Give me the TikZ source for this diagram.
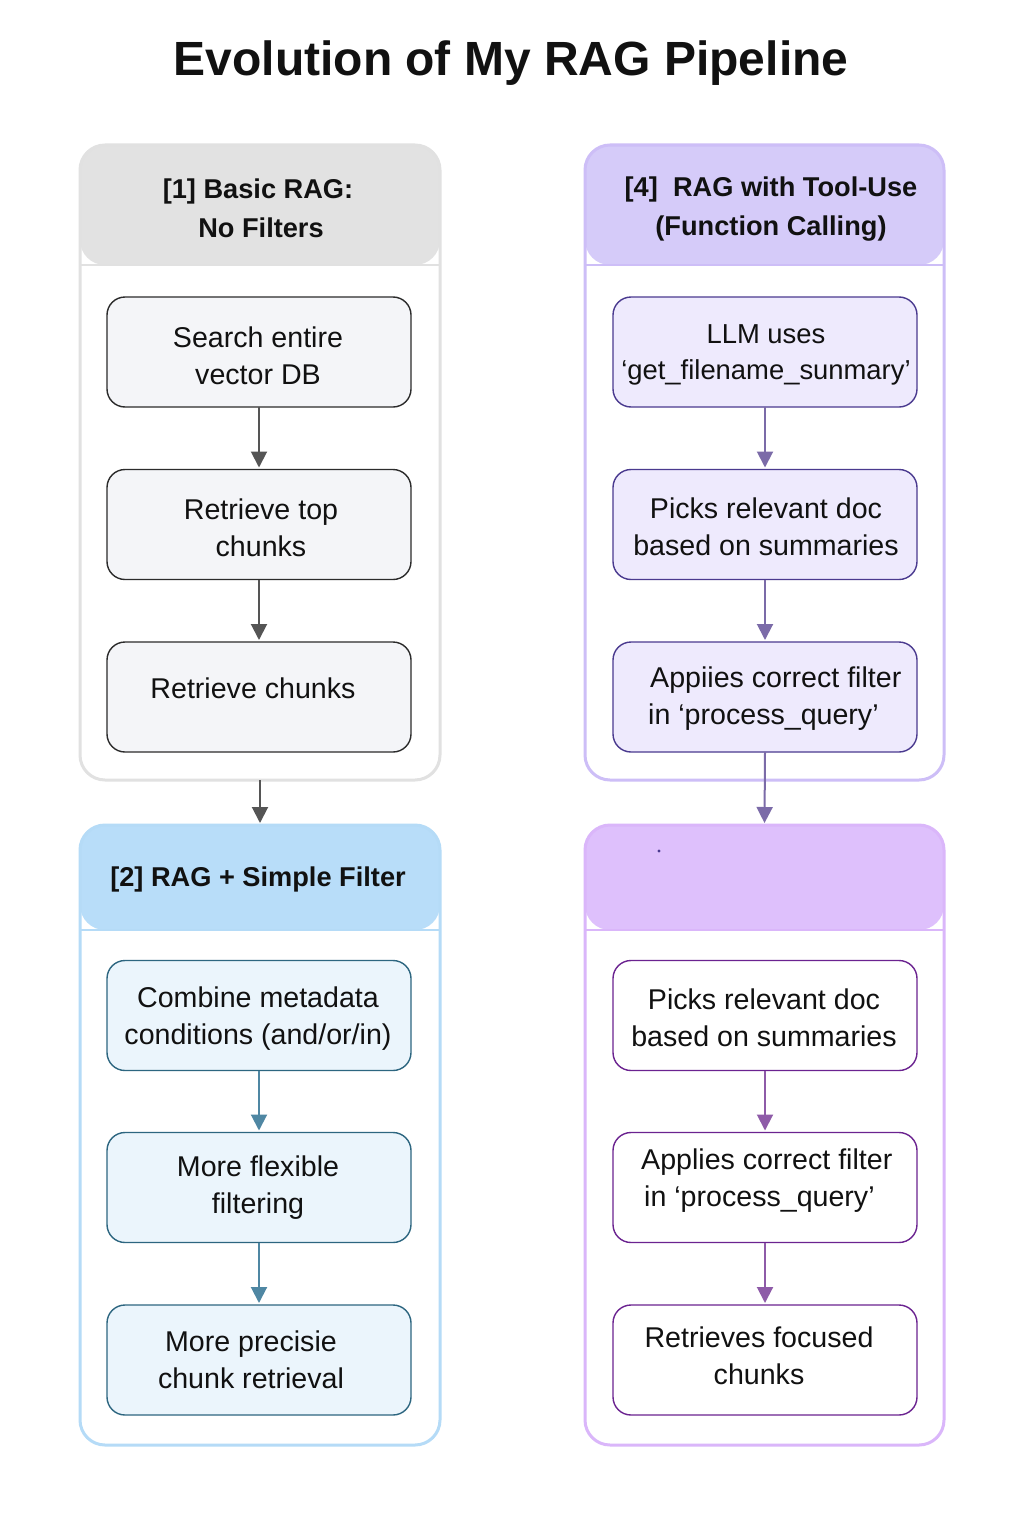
\documentclass[tikz,border=0pt]{standalone}
\usepackage{fontspec}
\setmainfont{Liberation Sans}
\usetikzlibrary{arrows.meta}
\definecolor{hdrgray}{HTML}{E2E2E2}
\definecolor{bdrgray}{HTML}{E1E1E1}
\definecolor{fillgray}{HTML}{F4F5F8}
\definecolor{linegray}{HTML}{2B2B2B}
\definecolor{arrgray}{HTML}{555555}
\definecolor{hdrblue}{HTML}{B8DDF9}
\definecolor{bdrblue}{HTML}{B5DBF7}
\definecolor{fillblue}{HTML}{EBF5FC}
\definecolor{lineblue}{HTML}{2D6680}
\definecolor{arrblue}{HTML}{4F87A3}
\definecolor{hdrlav}{HTML}{D5CBF9}
\definecolor{bdrlav}{HTML}{CDBEF7}
\definecolor{filllav}{HTML}{EEEAFD}
\definecolor{linelav}{HTML}{4A3A8F}
\definecolor{arrlav}{HTML}{7B6BA8}
\definecolor{hdrvio}{HTML}{DEC0FC}
\definecolor{bdrvio}{HTML}{DAB6FA}
\definecolor{linevio}{HTML}{6B2390}
\definecolor{arrvio}{HTML}{8E5BA8}
\definecolor{txt}{HTML}{111111}
\tikzset{
  panel/.style n args={3}{draw=#2, line width=3pt, rounded corners=25pt, fill=white,
    minimum width=360pt, outer sep=0pt, inner sep=0pt,
    path picture={\fill[#1] (path picture bounding box.north west) rectangle ([yshift=-#3]path picture bounding box.north east);
      \draw[#2, line width=1.5pt] ([yshift=-#3]path picture bounding box.north west) -- ([yshift=-#3]path picture bounding box.north east);}},
  stepbox/.style n args={2}{draw=#2, fill=#1, line width=1.4pt, rounded corners=18pt,
    minimum width=304pt, minimum height=110pt, outer sep=0pt, inner sep=0pt},
  bodytxt/.style={text=txt, font=\fontsize{28.6}{37}\selectfont, align=center, inner sep=0pt},
  hdrtxt/.style={text=txt, font=\fontsize{27.2}{39}\selectfont\bfseries, align=center, inner sep=0pt},
  flow/.style={draw=#1, line width=2pt, -{Triangle[width=16pt,length=16pt]}, shorten >=2pt},
}
\begin{document}
\begin{tikzpicture}[x=1pt, y=-1pt]
\useasboundingbox (0,0) rectangle (1024,1536);
\fill[white] (0,0) rectangle (1024,1536);

% title
\node[text=txt, font=\fontsize{48}{58}\selectfont\bfseries, inner sep=0pt] (title) at (511,63) {Evolution of My RAG Pipeline};

% panels
\node[panel={hdrgray}{bdrgray}{120pt}, minimum height=635pt] (p1) at (260,462.5) {};
\node[panel={hdrblue}{bdrblue}{105pt}, minimum height=620pt] (p2) at (260,1135) {};
\node[panel={hdrlav}{bdrlav}{120pt}, minimum height=635pt, minimum width=359pt] (p4) at (764.5,462.5) {};
\node[panel={hdrvio}{bdrvio}{105pt}, minimum height=620pt, minimum width=359pt] (p5) at (764.5,1135) {};

% headers
\node[hdrtxt] (h1) at (258,208) {[1] Basic RAG:\\\hspace*{6pt}No Filters};
\node[hdrtxt] (h2) at (258,879) {[2] RAG + Simple Filter};
\node[hdrtxt] (h4) at (771,209) {[4]\ \ RAG with Tool-Use\\(Function Calling)};
\fill[linelav] (659,851) circle (1.6pt);

% left top boxes
\node[stepbox={fillgray}{linegray}] (a1) at (259,352) {};
\node[stepbox={fillgray}{linegray}] (a2) at (259,524.5) {};
\node[stepbox={fillgray}{linegray}] (a3) at (259,697) {};
\node[bodytxt] (a1t) at (258,356) {Search entire\\vector DB};
\node[bodytxt] (a2t) at (261,528) {Retrieve top\\chunks};
\node[bodytxt] (a3t) at (253,688) {Retrieve chunks};
\draw[flow=arrgray] (a1) -- (a2);
\draw[flow=arrgray] (a2) -- (a3);

% left bottom boxes
\node[stepbox={fillblue}{lineblue}] (b1) at (259,1015.5) {};
\node[stepbox={fillblue}{lineblue}] (b2) at (259,1187.5) {};
\node[stepbox={fillblue}{lineblue}] (b3) at (259,1360) {};
\node[bodytxt] (b1t) at (258,1019) {Combine metadata\\conditions (and/or/in)};
\node[bodytxt] (b2t) at (258,1188) {More flexible\\filtering};
\node[bodytxt] (b3t) at (251,1360) {More precisie\\chunk retrieval};
\draw[flow=arrblue] (b1) -- (b2);
\draw[flow=arrblue] (b2) -- (b3);

% right top boxes
\node[stepbox={filllav}{linelav}] (c1) at (765,352) {};
\node[stepbox={filllav}{linelav}] (c2) at (765,524.5) {};
\node[stepbox={filllav}{linelav}] (c3) at (765,697) {};
\node[bodytxt, font=\fontsize{27.4}{36}\selectfont] (c1t) at (766,355) {LLM uses\\‘get\_filename\_sunmary’};
\node[bodytxt] (c2t) at (766,527) {Picks relevant doc\\based on summaries};
\node[bodytxt, align=left, anchor=west] (c3t) at (648,699) {\hspace*{2pt}Appiies correct filter\\in ‘process\_query’};
\draw[flow=arrlav] (c1) -- (c2);
\draw[flow=arrlav] (c2) -- (c3);

% right bottom boxes
\node[stepbox={white}{linevio}] (d1) at (765,1015.5) {};
\node[stepbox={white}{linevio}] (d2) at (765,1187.5) {};
\node[stepbox={white}{linevio}] (d3) at (765,1360) {};
\node[bodytxt] (d1t) at (764,1018) {Picks relevant doc\\based on summaries};
\node[bodytxt, align=left, anchor=west] (d2t) at (641,1181) {Applies correct filter\\\hspace*{3pt}in ‘process\_query’};
\node[bodytxt] (d3t) at (759,1356) {Retrieves focused\\chunks};
\draw[flow=arrvio] (d1) -- (d2);
\draw[flow=arrvio] (d2) -- (d3);

% between panels
\draw[flow=arrgray] (p1.south) -- (p2.north);
\draw[flow=arrlav] (c3.south) -- (p5.north);
\end{tikzpicture}
\end{document}
